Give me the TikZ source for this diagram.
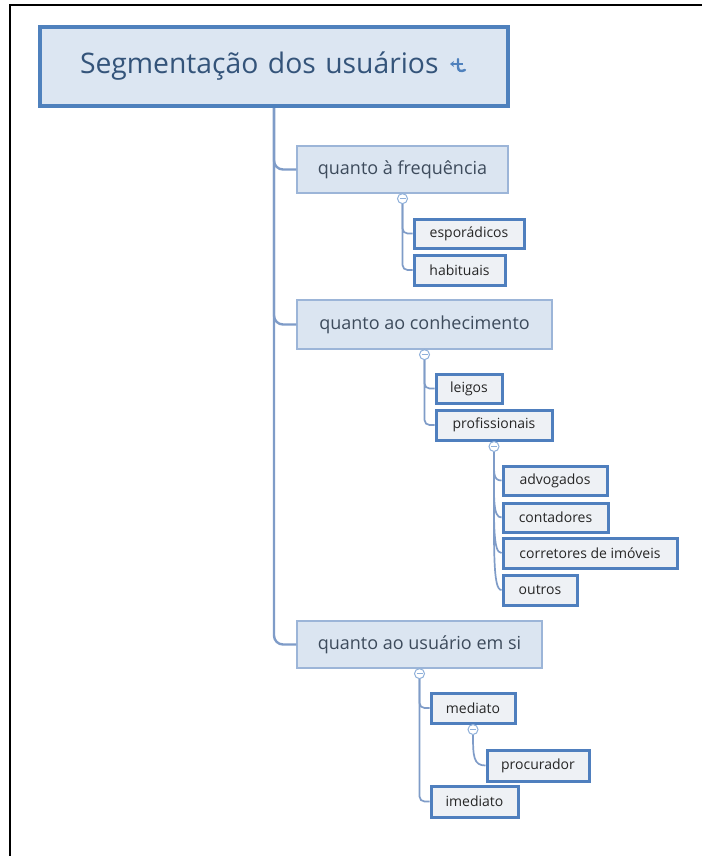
\documentclass[tikz,border=0pt]{standalone}
\usepackage{fontspec}
\setmainfont{Open Sans}
\usetikzlibrary{calc,arrows.meta}
\definecolor{titlefill}{HTML}{DCE6F2}
\definecolor{titleborder}{HTML}{4F81BD}
\definecolor{titletext}{HTML}{34547A}
\definecolor{lvlfill}{HTML}{DBE5F1}
\definecolor{lvlborder}{HTML}{9CB5D8}
\definecolor{lvltext}{HTML}{3D4B5C}
\definecolor{leaffill}{HTML}{EEF1F5}
\definecolor{leafborder}{HTML}{4F7FBE}
\definecolor{linkcol}{HTML}{7F9CC8}
\definecolor{circcol}{HTML}{8FB0DA}
\begin{document}
\begin{tikzpicture}[x=1pt,y=-1pt,
  titlebox/.style={draw=titleborder, line width=4.5pt, fill=titlefill, text=titletext, font=\fontsize{28.3}{32}\selectfont, inner sep=0pt},
  topic/.style={draw=lvlborder, line width=1.3pt, fill=lvlfill, text=lvltext, font=\fontsize{18}{21}\selectfont, inner sep=0pt},
  leaf/.style={draw=leafborder, line width=3pt, fill=leaffill, text=black!85, font=\fontsize{14}{16}\selectfont, inner sep=0pt},
  trunk/.style={draw=linkcol, line width=2.4pt, rounded corners=9pt},
  link/.style={draw=linkcol, line width=1.7pt, rounded corners=5pt},
  collapse/.style={circle, draw=circcol, fill=white, line width=1pt, minimum size=10pt, inner sep=0pt,
    path picture={\draw[circcol, line width=1pt] ([xshift=2pt]path picture bounding box.west) -- ([xshift=-2pt]path picture bounding box.east);}},
]
\useasboundingbox (0,0) rectangle (702,856);
\fill[white] (0,0) rectangle (702,856);
% outer frame
\draw[line width=2.4pt] (10,856) -- (10,5) -- (702,5);

% title
\node[titlebox, minimum width=468pt, minimum height=79pt, text width=388pt, align=left] (title) at (274,66.5) {Segmentação dos usuários};
\draw[titleborder, line width=2.4pt, line cap=round] (458,59) -- (458,67) .. controls (458,71) and (461,72) .. (465,70);
\draw[titleborder, line width=1.8pt, -{Stealth[length=4pt,width=6pt]}] (463,64) -- (450,64);

% level 1
\node[topic, minimum width=211pt, minimum height=47pt] (freq) at (402.5,169.5) {quanto à frequência};
\node[topic, minimum width=255pt, minimum height=49pt] (conh) at (424.5,324.5) {quanto ao conhecimento};
\node[topic, minimum width=245pt, minimum height=47pt] (usu) at (419.5,644.5) {quanto ao usuário em si};

% level 2
\node[leaf, minimum width=110pt, minimum height=29pt] (esp) at (469,233.5) {esporádicos};
\node[leaf, minimum width=91pt, minimum height=30pt] (hab) at (459.5,270) {habituais};
\node[leaf, minimum width=66pt, minimum height=29pt] (lei) at (469,388.5) {leigos};
\node[leaf, minimum width=116pt, minimum height=30pt] (prof) at (494,425) {profissionais};
\node[leaf, minimum width=104pt, minimum height=29pt] (adv) at (555,480.5) {advogados};
\node[leaf, minimum width=105pt, minimum height=29pt] (cont) at (555.5,517.5) {contadores};
\node[leaf, minimum width=174pt, minimum height=30pt] (corr) at (590,553) {corretores de imóveis};
\node[leaf, minimum width=74pt, minimum height=30pt] (outr) at (540,590) {outros};
\node[leaf, minimum width=84pt, minimum height=30pt] (med) at (473,708) {mediato};
\node[leaf, minimum width=102pt, minimum height=31pt] (proc) at (538,765.5) {procurador};
\node[leaf, minimum width=87pt, minimum height=31pt] (imed) at (474.5,801.5) {imediato};

% collapse markers
\node[collapse] (fc) at ($(freq.south)+(0,5)$) {};
\node[collapse] (cc) at ($(conh.south)+(0,5)$) {};
\node[collapse] (pc) at ($(prof.south)+(0,5)$) {};
\node[collapse] (uc) at ($(usu.south)+(0,5)$) {};
\node[collapse] (mc) at ($(med.south)+(0,5)$) {};

% connectors
\draw[trunk] (title.south) |- (freq.west);
\draw[trunk] (title.south) |- (conh.west);
\draw[trunk] (title.south) |- (usu.west);

\draw[link] (fc.south) |- (esp.west);
\draw[link] (fc.south) |- (hab.west);
\draw[link] (cc.south) |- (lei.west);
\draw[link] (cc.south) |- (prof.west);
\draw[link] (uc.south) |- (med.west);
\draw[link] (uc.south) |- (imed.west);

\foreach \c in {adv,cont,corr,outr}{
  \draw[link] (pc.south) .. controls ($(pc.south)!0.7!(pc.south|-\c.west)$) and ($(\c.west)+(-9,0)$) .. (\c.west);
}
\draw[link] (mc.south) .. controls ($(mc.south)!0.7!(mc.south|-proc.west)$) and ($(proc.west)+(-12,0)$) .. (proc.west);
\end{tikzpicture}
\end{document}
